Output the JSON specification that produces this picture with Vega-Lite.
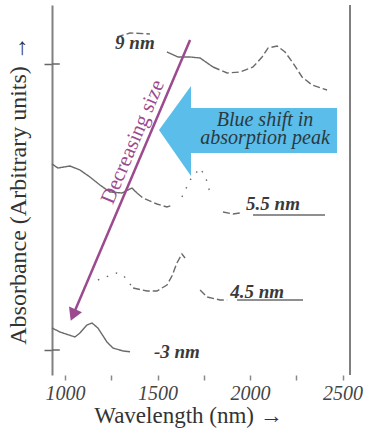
{
  "$schema": "https://vega.github.io/schema/vega-lite/v6.json",
  "width": 298,
  "height": 370,
  "autosize": "none",
  "padding": {"left": 52, "top": 5, "right": 18, "bottom": 57},
  "background": "white",
  "config": {"view": {"stroke": null}, "font": "Liberation Serif, Times New Roman, DejaVu Serif, serif"},
  "datasets": {
    "spectra": [
      {"size": "9 nm", "seg": "9a", "kind": "dashed", "wl": 1281, "a": 33.8},
      {"size": "9 nm", "seg": "9a", "kind": "dashed", "wl": 1351, "a": 34.2},
      {"size": "9 nm", "seg": "9a", "kind": "dashed", "wl": 1459, "a": 34.1},
      {"size": "9 nm", "seg": "9b", "kind": "solid", "wl": 1551, "a": 32.3},
      {"size": "9 nm", "seg": "9b", "kind": "solid", "wl": 1611, "a": 31.8},
      {"size": "9 nm", "seg": "9b", "kind": "solid", "wl": 1676, "a": 31.8},
      {"size": "9 nm", "seg": "9b", "kind": "solid", "wl": 1730, "a": 31.7},
      {"size": "9 nm", "seg": "9b", "kind": "solid", "wl": 1800, "a": 30.8},
      {"size": "9 nm", "seg": "9c", "kind": "dashed", "wl": 1800, "a": 30.8},
      {"size": "9 nm", "seg": "9c", "kind": "dashed", "wl": 1876, "a": 30.2},
      {"size": "9 nm", "seg": "9c", "kind": "dashed", "wl": 1946, "a": 30.3},
      {"size": "9 nm", "seg": "9c", "kind": "dashed", "wl": 2016, "a": 30.8},
      {"size": "9 nm", "seg": "9c", "kind": "dashed", "wl": 2065, "a": 31.8},
      {"size": "9 nm", "seg": "9c", "kind": "dashed", "wl": 2097, "a": 32.7},
      {"size": "9 nm", "seg": "9c", "kind": "dashed", "wl": 2146, "a": 32.9},
      {"size": "9 nm", "seg": "9c", "kind": "dashed", "wl": 2189, "a": 32.3},
      {"size": "9 nm", "seg": "9c", "kind": "dashed", "wl": 2232, "a": 31.2},
      {"size": "9 nm", "seg": "9c", "kind": "dashed", "wl": 2281, "a": 29.8},
      {"size": "9 nm", "seg": "9c", "kind": "dashed", "wl": 2335, "a": 29.0},
      {"size": "9 nm", "seg": "9c", "kind": "dashed", "wl": 2416, "a": 28.5},
      {"size": "5.5 nm", "seg": "55a", "kind": "solid", "wl": 930, "a": 21.1},
      {"size": "5.5 nm", "seg": "55a", "kind": "solid", "wl": 962, "a": 20.7},
      {"size": "5.5 nm", "seg": "55a", "kind": "solid", "wl": 1027, "a": 20.9},
      {"size": "5.5 nm", "seg": "55a", "kind": "solid", "wl": 1081, "a": 20.5},
      {"size": "5.5 nm", "seg": "55a", "kind": "solid", "wl": 1135, "a": 19.8},
      {"size": "5.5 nm", "seg": "55a", "kind": "solid", "wl": 1189, "a": 19.0},
      {"size": "5.5 nm", "seg": "55a", "kind": "solid", "wl": 1243, "a": 18.3},
      {"size": "5.5 nm", "seg": "55a", "kind": "solid", "wl": 1308, "a": 18.2},
      {"size": "5.5 nm", "seg": "55a", "kind": "solid", "wl": 1362, "a": 18.7},
      {"size": "5.5 nm", "seg": "55a", "kind": "solid", "wl": 1389, "a": 18.2},
      {"size": "5.5 nm", "seg": "55b", "kind": "dashed", "wl": 1389, "a": 18.2},
      {"size": "5.5 nm", "seg": "55b", "kind": "dashed", "wl": 1422, "a": 17.7},
      {"size": "5.5 nm", "seg": "55b", "kind": "dashed", "wl": 1497, "a": 17.1},
      {"size": "5.5 nm", "seg": "55b", "kind": "dashed", "wl": 1551, "a": 16.8},
      {"size": "5.5 nm", "seg": "55b", "kind": "dashed", "wl": 1584, "a": 17.0},
      {"size": "5.5 nm", "seg": "55c", "kind": "dotted", "wl": 1632, "a": 17.8},
      {"size": "5.5 nm", "seg": "55c", "kind": "dotted", "wl": 1676, "a": 19.5},
      {"size": "5.5 nm", "seg": "55c", "kind": "dotted", "wl": 1730, "a": 20.7},
      {"size": "5.5 nm", "seg": "55c", "kind": "dotted", "wl": 1760, "a": 19.8},
      {"size": "5.5 nm", "seg": "55c", "kind": "dotted", "wl": 1784, "a": 18.2},
      {"size": "5.5 nm", "seg": "55d", "kind": "dashed", "wl": 1854, "a": 16.3},
      {"size": "5.5 nm", "seg": "55d", "kind": "dashed", "wl": 1908, "a": 16.1},
      {"size": "5.5 nm", "seg": "55d", "kind": "dashed", "wl": 1946, "a": 16.2},
      {"size": "5.5 nm", "seg": "55e", "kind": "solid", "wl": 2016, "a": 16.0},
      {"size": "5.5 nm", "seg": "55e", "kind": "solid", "wl": 2405, "a": 16.0},
      {"size": "4.5 nm", "seg": "45a", "kind": "dotted", "wl": 1178, "a": 9.5},
      {"size": "4.5 nm", "seg": "45a", "kind": "dotted", "wl": 1205, "a": 9.7},
      {"size": "4.5 nm", "seg": "45a", "kind": "dotted", "wl": 1281, "a": 10.2},
      {"size": "4.5 nm", "seg": "45a", "kind": "dotted", "wl": 1314, "a": 10.0},
      {"size": "4.5 nm", "seg": "45a", "kind": "dotted", "wl": 1368, "a": 8.7},
      {"size": "4.5 nm", "seg": "45b", "kind": "dashed", "wl": 1368, "a": 8.7},
      {"size": "4.5 nm", "seg": "45b", "kind": "dashed", "wl": 1443, "a": 8.4},
      {"size": "4.5 nm", "seg": "45b", "kind": "dashed", "wl": 1497, "a": 8.4},
      {"size": "4.5 nm", "seg": "45b", "kind": "dashed", "wl": 1551, "a": 9.0},
      {"size": "4.5 nm", "seg": "45b", "kind": "dashed", "wl": 1578, "a": 9.9},
      {"size": "4.5 nm", "seg": "45b", "kind": "dashed", "wl": 1605, "a": 11.2},
      {"size": "4.5 nm", "seg": "45b", "kind": "dashed", "wl": 1632, "a": 12.1},
      {"size": "4.5 nm", "seg": "45b", "kind": "dashed", "wl": 1649, "a": 11.7},
      {"size": "4.5 nm", "seg": "45c", "kind": "dashed", "wl": 1730, "a": 8.5},
      {"size": "4.5 nm", "seg": "45c", "kind": "dashed", "wl": 1768, "a": 7.8},
      {"size": "4.5 nm", "seg": "45c", "kind": "dashed", "wl": 1838, "a": 7.5},
      {"size": "4.5 nm", "seg": "45c", "kind": "dashed", "wl": 1876, "a": 7.5},
      {"size": "4.5 nm", "seg": "45d", "kind": "solid", "wl": 1930, "a": 7.5},
      {"size": "4.5 nm", "seg": "45d", "kind": "solid", "wl": 2286, "a": 7.5},
      {"size": "3 nm", "seg": "3a", "kind": "solid", "wl": 930, "a": 4.7},
      {"size": "3 nm", "seg": "3a", "kind": "solid", "wl": 973, "a": 4.3},
      {"size": "3 nm", "seg": "3a", "kind": "solid", "wl": 1054, "a": 3.8},
      {"size": "3 nm", "seg": "3a", "kind": "solid", "wl": 1081, "a": 4.2},
      {"size": "3 nm", "seg": "3a", "kind": "solid", "wl": 1119, "a": 5.0},
      {"size": "3 nm", "seg": "3a", "kind": "solid", "wl": 1146, "a": 5.2},
      {"size": "3 nm", "seg": "3a", "kind": "solid", "wl": 1178, "a": 4.7},
      {"size": "3 nm", "seg": "3a", "kind": "solid", "wl": 1227, "a": 3.3},
      {"size": "3 nm", "seg": "3a", "kind": "solid", "wl": 1259, "a": 2.7},
      {"size": "3 nm", "seg": "3a", "kind": "solid", "wl": 1314, "a": 2.4},
      {"size": "3 nm", "seg": "3b", "kind": "dashed", "wl": 1314, "a": 2.4},
      {"size": "3 nm", "seg": "3b", "kind": "dashed", "wl": 1368, "a": 2.3}
    ],
    "labels": [
      {"text": "9 nm", "wl": 1378, "a": 33.2},
      {"text": "5.5 nm", "wl": 2124, "a": 17.1},
      {"text": "4.5 nm", "wl": 2038, "a": 8.3},
      {"text": "-3 nm", "wl": 1605, "a": 2.3}
    ],
    "arrowhead": [
      {"wl": 1508, "top": 24.5, "bottom": 24.5},
      {"wl": 1681, "top": 28.9, "bottom": 19.9}
    ],
    "arrowbody": [
      {"wl": 1680, "wl2": 2470, "top": 26.7, "bottom": 22.2}
    ],
    "bluetext": [
      {"text": "Blue shift in\nabsorption peak", "wl": 2081, "a": 25.5}
    ],
    "purplearrow": [
      {"wl": 1676, "a": 33.5, "wl2": 1044, "a2": 6.0}
    ],
    "purplenote": [
      {"text": "Decreasing size", "wl": 1368, "a": 23.3}
    ],
    "innerticks": [
      {"a": 2.5, "wl": 930, "wl2": 972},
      {"a": 31.1, "wl": 930, "wl2": 972}
    ],
    "frame": [
      {"wl": 2540}
    ]
  },
  "layer": [
    {
      "data": {"name": "arrowhead"},
      "mark": {"type": "area", "color": "#5bbde9", "opacity": 1, "orient": "vertical"},
      "encoding": {
        "x": {"field": "wl", "type": "quantitative", "scale": {"domain": [930, 2540], "nice": false, "zero": false},
          "axis": {
            "values": [1000, 1250, 1500, 1750, 2000, 2250, 2500],
            "labelExpr": "datum.value % 500 == 0 ? datum.value : ''",
            "domain": false, "grid": false,
            "tickColor": "#888", "tickSize": 5, "tickWidth": 1.5,
            "labelFont": "Liberation Serif, Times New Roman, DejaVu Serif, serif", "labelFontStyle": "italic", "labelFontSize": 20, "labelColor": "#444", "labelPadding": 3,
            "title": "Wavelength (nm) →", "titleFont": "Liberation Serif, Times New Roman, DejaVu Serif, serif", "titleFontSize": 23, "titleFontWeight": "normal", "titleColor": "#333",
            "titleX": 136, "titleY": 47, "titleBaseline": "alphabetic", "titleAnchor": "middle", "titleAlign": "center"
          }},
        "y": {"field": "top", "type": "quantitative", "stack": null, "scale": {"domain": [0, 37], "nice": false, "zero": false},
          "axis": {
            "values": [2.5, 31.1], "labels": false, "grid": false,
            "domain": true, "domainColor": "#808080", "domainWidth": 2,
            "tickColor": "#666", "tickSize": 8, "tickWidth": 1.5,
            "title": "Absorbance (Arbitrary units) →", "titleFont": "Liberation Serif, Times New Roman, DejaVu Serif, serif", "titleFontSize": 24, "titleFontWeight": "normal", "titleColor": "#333",
            "titlePadding": 13
          }},
        "y2": {"field": "bottom"}
      }
    },
    {
      "data": {"name": "arrowbody"},
      "mark": {"type": "rect", "color": "#5bbde9", "opacity": 1},
      "encoding": {
        "x": {"field": "wl", "type": "quantitative"},
        "x2": {"field": "wl2"},
        "y": {"field": "top", "type": "quantitative"},
        "y2": {"field": "bottom"}
      }
    },
    {
      "data": {"name": "bluetext"},
      "mark": {"type": "text", "font": "Liberation Serif, Times New Roman, DejaVu Serif, serif", "fontStyle": "italic", "fontSize": 20, "color": "#2b3940", "align": "center", "baseline": "middle", "lineBreak": "\n", "lineHeight": 18},
      "encoding": {
        "x": {"field": "wl", "type": "quantitative"},
        "y": {"field": "a", "type": "quantitative"},
        "text": {"field": "text"}
      }
    },
    {
      "data": {"name": "spectra"},
      "mark": {"type": "line", "color": "#6a6a6a", "strokeWidth": 1.4},
      "encoding": {
        "x": {"field": "wl", "type": "quantitative"},
        "y": {"field": "a", "type": "quantitative"},
        "detail": {"field": "seg"},
        "strokeDash": {"field": "kind", "type": "nominal", "scale": {"domain": ["solid", "dashed", "dotted"], "range": [[1, 0], [7, 3], [1.5, 8]]}, "legend": null}
      }
    },
    {
      "data": {"name": "labels"},
      "mark": {"type": "text", "font": "Liberation Serif, Times New Roman, DejaVu Serif, serif", "fontStyle": "italic", "fontWeight": "bold", "fontSize": 19, "color": "#3a3a3a", "align": "center", "baseline": "middle"},
      "encoding": {
        "x": {"field": "wl", "type": "quantitative"},
        "y": {"field": "a", "type": "quantitative"},
        "text": {"field": "text"}
      }
    },
    {
      "data": {"name": "innerticks"},
      "mark": {"type": "rule", "color": "#666", "strokeWidth": 1.5},
      "encoding": {
        "x": {"field": "wl", "type": "quantitative"},
        "x2": {"field": "wl2"},
        "y": {"field": "a", "type": "quantitative"}
      }
    },
    {
      "data": {"name": "frame"},
      "mark": {"type": "rule", "color": "#808080", "strokeWidth": 2},
      "encoding": {
        "x": {"field": "wl", "type": "quantitative"}
      }
    },
    {
      "data": {"name": "purplearrow"},
      "mark": {"type": "rule", "color": "#9c4a8f", "strokeWidth": 2.5},
      "encoding": {
        "x": {"field": "wl", "type": "quantitative"},
        "y": {"field": "a", "type": "quantitative"},
        "x2": {"field": "wl2"},
        "y2": {"field": "a2"}
      }
    },
    {
      "data": {"name": "purplearrow"},
      "mark": {"type": "point", "shape": "triangle-down", "filled": true, "color": "#9c4a8f", "opacity": 1, "size": 200, "angle": 23},
      "encoding": {
        "x": {"field": "wl2", "type": "quantitative"},
        "y": {"field": "a2", "type": "quantitative"}
      }
    },
    {
      "data": {"name": "purplenote"},
      "mark": {"type": "text", "font": "Liberation Serif, Times New Roman, DejaVu Serif, serif", "fontSize": 21, "color": "#9c4a8f", "align": "center", "baseline": "middle", "angle": -67},
      "encoding": {
        "x": {"field": "wl", "type": "quantitative"},
        "y": {"field": "a", "type": "quantitative"},
        "text": {"field": "text"}
      }
    }
  ]
}
